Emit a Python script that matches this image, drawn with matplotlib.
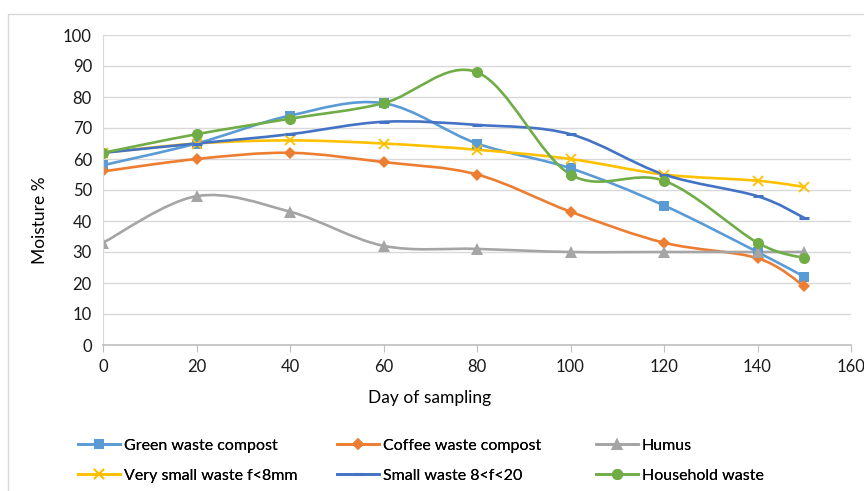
import numpy as np
import matplotlib.pyplot as plt
from matplotlib.path import Path
from matplotlib.patches import PathPatch, Rectangle
from matplotlib.lines import Line2D

plt.rcParams["font.family"] = ["Lato", "DejaVu Sans"]

days = [0, 20, 40, 60, 80, 100, 120, 140, 150]
green_waste = [58, 65, 74, 78, 65, 57, 45, 30, 22]
coffee_waste = [56, 60, 62, 59, 55, 43, 33, 28, 19]
humus = [33, 48, 43, 32, 31, 30, 30, 30, 30]
very_small = [62, 65, 66, 65, 63, 60, 55, 53, 51]
small_waste = [62, 65, 68, 72, 71, 68, 55, 48, 41]
household = [62, 68, 73, 78, 88, 55, 53, 33, 28]

labels = ["Green waste compost", "Coffee waste compost", "Humus",
          "Very small waste f<8mm", "Small waste 8<f<20", "Household waste"]
series = [green_waste, coffee_waste, humus, very_small, small_waste, household]
colors = ["#5B9BD5", "#ED7D31", "#A5A5A5", "#FFC000", "#4472C4", "#70AD47"]
markers = ["s", "D", "^", "x", "_", "o"]
msizes = [7, 6, 8, 7, 7, 8]


def smooth_path(x, y):
    # excel-like smoothed line: catmull-rom segments as cubic beziers
    p = np.column_stack([x, y]).astype(float)
    pts = np.vstack([p[0], p, p[-1]])
    verts = [p[0]]
    codes = [Path.MOVETO]
    for i in range(1, len(pts) - 2):
        p0, p1, p2, p3 = pts[i - 1], pts[i], pts[i + 1], pts[i + 2]
        verts += [p1 + (p2 - p0) / 6, p2 - (p3 - p1) / 6, p2]
        codes += [Path.CURVE4] * 3
    return Path(verts, codes)


fig = plt.figure(figsize=(8.64, 4.91), dpi=100)
fig.patches.append(Rectangle((8 / 864, -0.1), 1.2, 1.1 - 14 / 491,
                             transform=fig.transFigure, fill=False,
                             edgecolor="#D9D9D9", linewidth=1))
ax = fig.add_axes([103 / 864, 1 - 345 / 491, 748 / 864, 310 / 491])

handles = []
for ys, c, m, ms, lab in zip(series, colors, markers, msizes, labels):
    ax.add_patch(PathPatch(smooth_path(days, ys), facecolor="none",
                           edgecolor=c, linewidth=1.9, capstyle="round"))
    mew = 1.3 if m == "x" else (2.2 if m == "_" else 0)
    ax.plot(days, ys, linestyle="none", marker=m, markersize=ms,
            color=c, markeredgecolor=c, markeredgewidth=mew)
    handles.append(Line2D([], [], color=c, linewidth=1.9, marker=m,
                          markersize=ms, markeredgewidth=mew, label=lab))

ax.set_xlim(0, 160)
ax.set_ylim(0, 100)
ax.set_xticks(range(0, 161, 20))
ax.set_yticks(range(0, 101, 10))
ax.grid(axis="y", color="#D9D9D9", linewidth=1)
ax.set_axisbelow(True)
for s in ["top", "right"]:
    ax.spines[s].set_visible(False)
ax.spines["left"].set_color("#D9D9D9")
ax.spines["bottom"].set_color("#BFBFBF")
ax.spines["bottom"].set_linewidth(1.2)
ax.tick_params(axis="y", length=0, labelsize=12, pad=8, labelcolor="#1a1a1a")
ax.tick_params(axis="x", length=5, color="#BFBFBF", labelsize=12, pad=5,
               labelcolor="#1a1a1a")
ax.set_xlabel("Day of sampling", fontsize=12.5)
ax.set_ylabel("Moisture %", fontsize=12.5)
ax.xaxis.set_label_coords((430 - 103) / 748, -(398 - 345) / 310)
ax.xaxis.label.set_va("center")
ax.yaxis.set_label_coords(-(103 - 40) / 748, (345 - 220) / 310)
ax.yaxis.label.set_va("center")

col_x = [72 / 864, 331 / 864, 590 / 864]
for k in range(3):
    lg = fig.legend(handles=[handles[k], handles[k + 3]], loc="upper left",
                    bbox_to_anchor=(col_x[k], 1 - 432 / 491), frameon=False,
                    fontsize=11.5, handlelength=2.6, handletextpad=0.25,
                    labelspacing=1.0, borderaxespad=0)
    fig.add_artist(lg)

fig.savefig("out.png", dpi=100)
